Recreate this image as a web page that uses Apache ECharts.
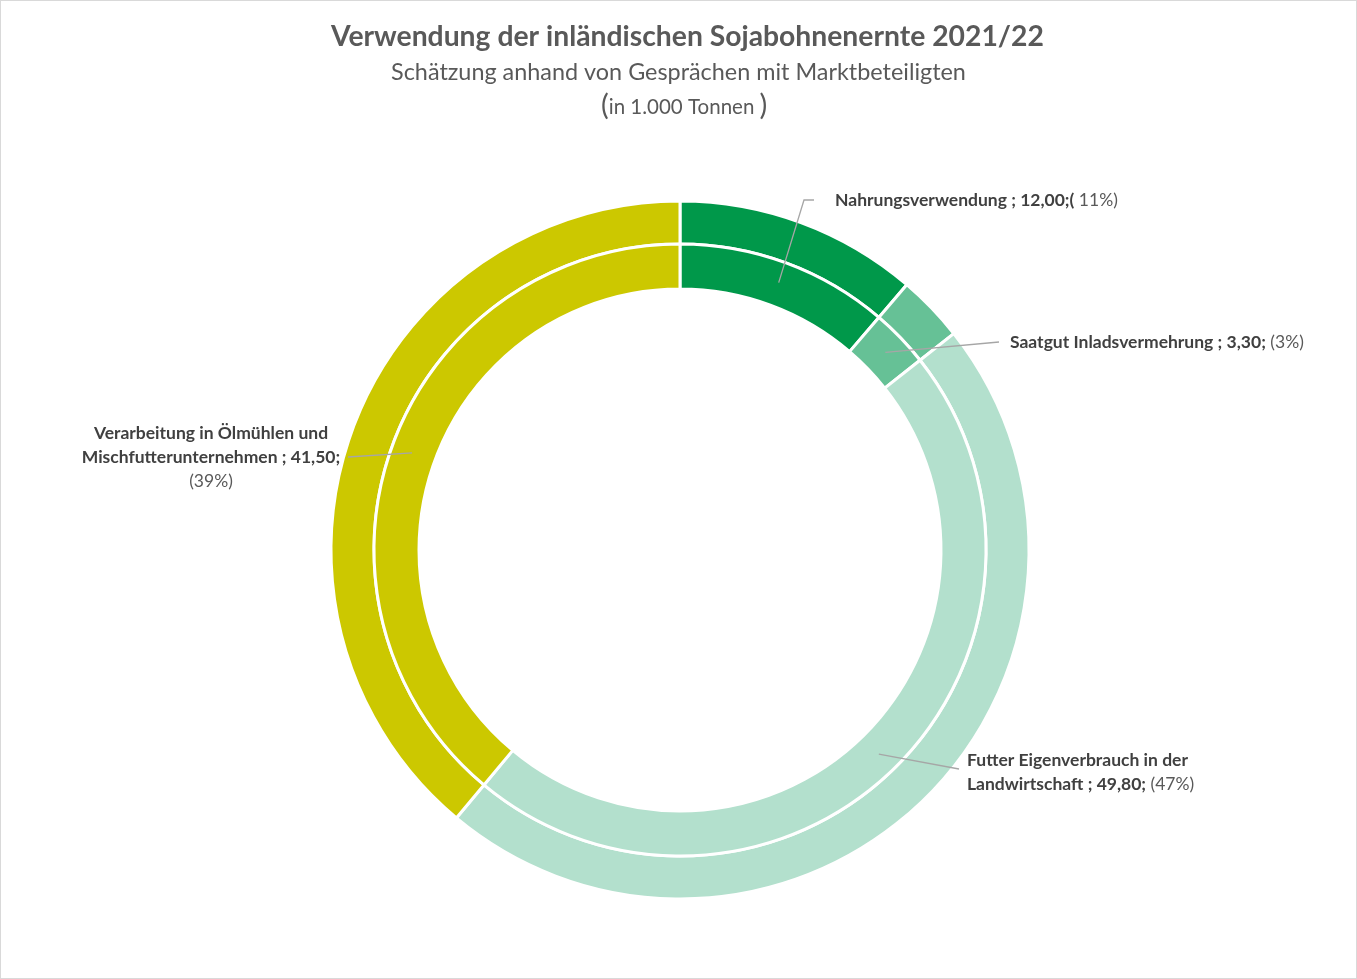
<!DOCTYPE html>
<html>
<head>
<meta charset="utf-8">
<script src="https://cdn.jsdelivr.net/npm/echarts@6/dist/echarts.min.js"></script>
<style>
html, body { margin: 0; padding: 0; background: #fff; }
#main { width: 1357px; height: 979px; box-sizing: border-box; border: 1px solid #d9d9d9; }
</style>
</head>
<body>
<div id="main"></div>
<script>
// Daten
var categories = ['Nahrungsverwendung', 'Saatgut Inladsvermehrung', 'Futter Eigenverbrauch in der Landwirtschaft', 'Verarbeitung in Ölmühlen und Mischfutterunternehmen'];
var values = [12.00, 3.30, 49.80, 41.50];
var colors = ['#00984a', '#66c196', '#b3e0cd', '#ccc800'];
// Beschriftungen wie im Original (inkl. Eigenheiten)
var labelTexts = [
	'{b|Nahrungsverwendung ; 12,00;(}{p| 11%)}',
	'{b|Saatgut Inladsvermehrung ; 3,30;}{p| (3%)}',
	'{b|Futter Eigenverbrauch in der}\n{b|Landwirtschaft ; 49,80;}{p| (47%)}',
	'{b|Verarbeitung in Ölmühlen und}\n{b|Mischfutterunternehmen ; 41,50;}\n{p|(39%)}'
];
// Position der Beschriftungen
var labelPos = [
	{x: 834, y: 199, align: 'left', line: [[803, 199], [813, 199]]},
	{x: 1009, y: 341, align: 'left', line: [[998, 341]]},
	{x: 966, y: 771, align: 'left', line: [[958, 768]]},
	{x: 210, y: 456, align: 'center', line: [[347, 456]]}
];

var FONT = 'Lato, "Open Sans", sans-serif';
var data = categories.map(function(c, i) {
	return {name: c, value: values[i], itemStyle: {color: colors[i]}};
});

var chart = echarts.init(document.getElementById('main'));
var option = {
	animation: false,
	title: [
		{
			text: 'Verwendung der inländischen Sojabohnenernte 2021/22',
			left: 325, top: 17,
			textStyle: {fontFamily: FONT, fontSize: 28.3, fontWeight: 'bold', color: '#595959'}
		},
		{
			text: 'Schätzung anhand von Gesprächen mit Marktbeteiligten',
			left: 'center', top: 55,
			textStyle: {fontFamily: FONT, fontSize: 23.4, fontWeight: 'normal', color: '#595959'}
		},
		{
			text: '{a|(}{b|in 1.000 Tonnen }{a|)}',
			left: 595, top: 85,
			textStyle: {
				fontWeight: 'normal',
				rich: {
					a: {fontFamily: FONT, fontSize: 29, fontWeight: 'normal', color: '#595959'},
					b: {fontFamily: FONT, fontSize: 20.5, fontWeight: 'normal', color: '#595959', padding: [4, 0, 0, 0]}
				}
			}
		}
	],
	series: [
		{
			type: 'pie',
			radius: [306, 349],
			center: [679, 549],
			startAngle: 90,
			silent: true,
			label: {show: false},
			labelLine: {show: false},
			itemStyle: {borderColor: '#fff', borderWidth: 3},
			data: data
		},
		{
			type: 'pie',
			radius: [261, 306],
			center: [679, 549],
			startAngle: 90,
			silent: true,
			label: {show: false},
			labelLine: {show: false},
			itemStyle: {borderColor: '#fff', borderWidth: 3},
			data: data
		},
		{
			// nur für die Beschriftungen
			type: 'pie',
			radius: [0, 285],
			center: [679, 549],
			startAngle: 90,
			silent: true,
			z: 5,
			itemStyle: {color: 'rgba(0,0,0,0)'},
			label: {
				show: true,
				position: 'outside',
				formatter: function(p) { return labelTexts[p.dataIndex]; },
				rich: {
					b: {fontFamily: FONT, fontSize: 17.5, fontWeight: 'bold', color: '#404040', lineHeight: 24},
					p: {fontFamily: FONT, fontSize: 17.5, color: '#595959', lineHeight: 24}
				}
			},
			labelLine: {show: true, length: 20, length2: 10, lineStyle: {color: '#a6a6a6', width: 1.3}},
			labelLayout: function(params) {
				var lp = labelPos[params.dataIndex];
				var start = params.labelLinePoints ? params.labelLinePoints[0] : null;
				var res = {x: lp.x, y: lp.y, align: lp.align, verticalAlign: 'middle'};
				if (start) res.labelLinePoints = [start].concat(lp.line);
				return res;
			},
			data: categories.map(function(c, i) { return {name: c, value: values[i]}; })
		}
	]
};
chart.setOption(option);
window.onresize = function() { chart.resize(); };
</script>
</body>
</html>
